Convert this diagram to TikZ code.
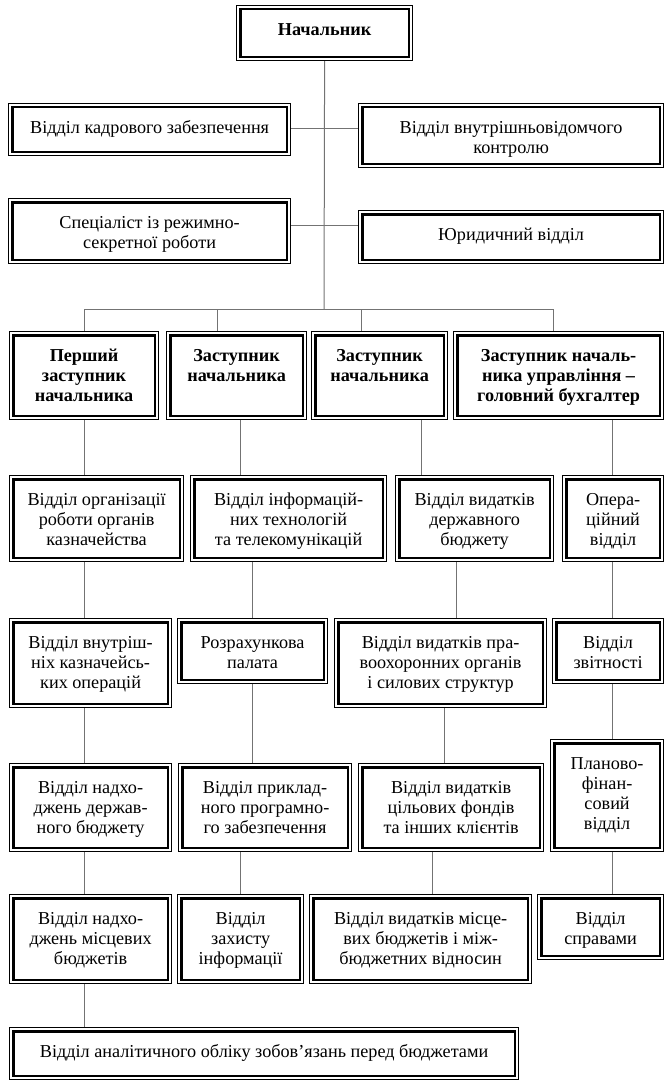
\documentclass[tikz,border=0pt]{standalone}
\usepackage{fontspec}
\setmainfont{Liberation Serif}
\begin{document}
\begin{tikzpicture}[x=1pt,y=-1pt,
  box/.style={draw, line width=1.2pt, inner sep=0pt, anchor=north west,
    path picture={\draw[line width=2.6pt]
      ([shift={(3.6pt,-3.6pt)}]path picture bounding box.north west) rectangle
      ([shift={(-3.6pt,3.6pt)}]path picture bounding box.south east);}},
  conn/.style={draw=black!55, line width=1pt}]
\useasboundingbox (0,0) rectangle (671,1086);
\newcommand\bx[6]{\node[box] (#1) at (#2,#3)
  {\parbox[c][#5pt][t]{#4pt}{\fontsize{18.2}{20}\selectfont\centering\rule{0pt}{29.5pt}#6\par}};}
% boxes
\bx{nach}{236}{5}{176}{55}{\bfseries Начальник}
\bx{kadr}{8}{103}{282}{52}{Відділ кадрового забезпечення}
\bx{vnutr}{358}{103}{305}{64}{Відділ внутрішньовідомчого\\контролю}
\bx{spec}{8}{198}{282}{65}{Спеціаліст із режимно-\\секретної роботи}
\bx{yur}{358}{210}{305}{53}{Юридичний відділ}
\bx{z1}{9}{331}{149}{88}{\bfseries Перший\\заступник\\начальника}
\bx{z2}{166}{331}{140}{88}{\bfseries Заступник\\начальника}
\bx{z3}{311}{331}{136}{88}{\bfseries Заступник\\начальника}
\bx{z4}{453}{331}{210}{88}{\bfseries Заступник началь-\\ника управління –\\головний бухгалтер}
\bx{org}{9}{475}{174}{86}{Відділ організації\\роботи органів\\казначейства}
\bx{inform}{190}{475}{196}{86}{Відділ інформацій-\\них технологій\\та телекомунікацій}
\bx{derzh}{395}{475}{158}{86}{Відділ видатків\\державного\\бюджету}
\bx{oper}{562}{475}{101}{86}{Опера-\\ційний\\відділ}
\bx{vnkaz}{9}{618}{162}{89}{Відділ внутріш-\\ніх казначейсь-\\ких операцій}
\bx{rozr}{177}{618}{150}{65}{Розрахункова\\палата}
\bx{pravo}{334}{618}{212}{89}{Відділ видатків пра-\\воохоронних органів\\і силових структур}
\bx{zvit}{552}{618}{111}{65}{Відділ\\звітності}
\bx{nadhd}{9}{763}{162}{88}{Відділ надхо-\\джень держав-\\ного бюджету}
\bx{prykl}{178}{763}{173}{88}{Відділ приклад-\\ного програмно-\\го забезпечення}
\bx{cil}{358}{763}{185}{88}{Відділ видатків\\цільових фондів\\та інших клієнтів}
\bx{plan}{550}{739}{113}{112}{Планово-\\фінан-\\совий\\відділ}
\bx{nadhm}{9}{894}{162}{89}{Відділ надхо-\\джень місцевих\\бюджетів}
\bx{zakh}{177}{894}{126}{89}{Відділ\\захисту\\інформації}
\bx{mists}{309}{894}{222}{89}{Відділ видатків місце-\\вих бюджетів і між-\\бюджетних відносин}
\bx{sprav}{537}{894}{126}{65}{Відділ\\справами}
\bx{anal}{9}{1027}{509}{52}{Відділ аналітичного обліку зобов’язань перед бюджетами}
% reference coordinates
\coordinate (bus) at (324,309);
\coordinate (j1) at (324,129);
\coordinate (j2) at (324,225);
\foreach \c in {84,217,240,252,361,421,432,444,456,553,612}{\coordinate (c\c) at (\c,0);}
% connectors
\draw[conn] (nach.south) -- (bus);
\draw[conn] (kadr.east |- j1) -- (vnutr.west |- j1);
\draw[conn] (spec.east |- j2) -- (yur.west |- j2);
\draw[conn] (z1.north -| c84) -- (bus -| c84) -- (bus -| c553) -- (z4.north -| c553);
\draw[conn] (z2.north -| c217) -- (bus -| c217);
\draw[conn] (z3.north -| c361) -- (bus -| c361);
% left column
\draw[conn] (z1.south -| c84) -- (org.north -| c84);
\draw[conn] (org.south -| c84) -- (vnkaz.north -| c84);
\draw[conn] (vnkaz.south -| c84) -- (nadhd.north -| c84);
\draw[conn] (nadhd.south -| c84) -- (nadhm.north -| c84);
\draw[conn] (nadhm.south -| c84) -- (anal.north -| c84);
% second column
\draw[conn] (z2.south -| c240) -- (inform.north -| c240);
\draw[conn] (inform.south -| c252) -- (rozr.north -| c252);
\draw[conn] (rozr.south -| c252) -- (prykl.north -| c252);
\draw[conn] (prykl.south -| c240) -- (zakh.north -| c240);
% third column
\draw[conn] (z3.south -| c421) -- (derzh.north -| c421);
\draw[conn] (derzh.south -| c456) -- (pravo.north -| c456);
\draw[conn] (pravo.south -| c444) -- (cil.north -| c444);
\draw[conn] (cil.south -| c432) -- (mists.north -| c432);
% fourth column
\draw[conn] (z4.south -| c612) -- (oper.north -| c612);
\draw[conn] (oper.south -| c612) -- (zvit.north -| c612);
\draw[conn] (zvit.south -| c612) -- (plan.north -| c612);
\draw[conn] (plan.south -| c612) -- (sprav.north -| c612);
\end{tikzpicture}
\end{document}
